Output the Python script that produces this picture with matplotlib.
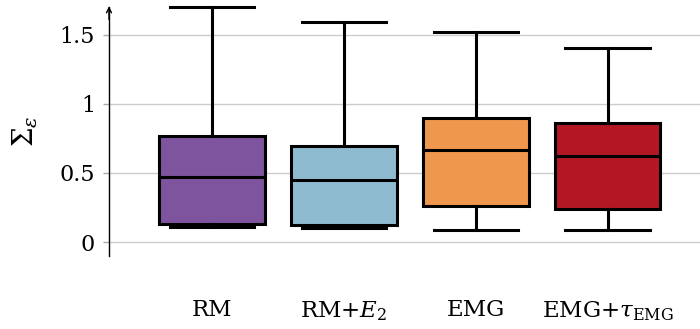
import matplotlib
matplotlib.use("Agg")
import matplotlib.pyplot as plt

# Box statistics per method
methods = ["RM", r"RM+$E_2$", "EMG", r"EMG+$\tau_{\mathrm{EMG}}$"]
whislo = [0.108, 0.103, 0.089, 0.087]
q1 = [0.132, 0.123, 0.262, 0.238]
med = [0.470, 0.448, 0.665, 0.624]
q3 = [0.768, 0.698, 0.898, 0.864]
whishi = [1.702, 1.594, 1.517, 1.404]
colors = ["#7E549E", "#8FBBD0", "#EF974D", "#B31724"]
yticks = [0, 0.5, 1, 1.5]
ytick_labels = ["0", "0.5", "1", "1.5"]

plt.rcParams["font.family"] = ["DejaVu Serif"]
plt.rcParams["mathtext.fontset"] = "dejavuserif"

fig = plt.figure(figsize=(7.0, 3.29), dpi=100)
ax = fig.add_axes([0.1557, 0.2219, 0.8443, 0.7568])

stats = []
for i in range(len(methods)):
    stats.append(dict(med=med[i], q1=q1[i], q3=q3[i],
                      whislo=whislo[i], whishi=whishi[i], fliers=[]))

lw = 2.2
bp = ax.bxp(stats, positions=range(1, len(methods) + 1), widths=0.8,
            patch_artist=True, showfliers=False,
            boxprops=dict(linewidth=lw, edgecolor="black"),
            medianprops=dict(linewidth=lw, color="black"),
            whiskerprops=dict(linewidth=lw, color="black"),
            capprops=dict(linewidth=lw, color="black"),
            capwidths=0.64)
for patch, c in zip(bp["boxes"], colors):
    patch.set_facecolor(c)
for art in bp["whiskers"] + bp["caps"] + bp["medians"] + bp["boxes"]:
    art.set_clip_on(False)
    art.set_zorder(3)

ax.set_xlim(0.22, 4.70)
ax.set_ylim(-0.1, 1.7)
ax.set_yticks(yticks)
ax.set_yticklabels(ytick_labels)
ax.set_xticks(range(1, len(methods) + 1))
ax.set_xticklabels(methods)

ax.yaxis.grid(True, color="#cccccc", linewidth=1.0)
ax.set_axisbelow(True)
ax.tick_params(axis="y", length=4, width=1.0, color="#aaaaaa", pad=6, labelsize=16)
ax.tick_params(axis="x", length=0, pad=31, labelsize=16.5)

for s in ["top", "right", "bottom"]:
    ax.spines[s].set_visible(False)
ax.spines["left"].set_linewidth(1.0)
ax.annotate("", xy=(0, 1.003), xycoords="axes fraction",
            xytext=(0, 0.95), textcoords="axes fraction",
            arrowprops=dict(arrowstyle="->", color="black", lw=1.0,
                            shrinkA=0, shrinkB=0, mutation_scale=9))

ax.set_ylabel(r"$\Sigma_\varepsilon$", fontsize=20, labelpad=14)

fig.savefig("out.png", dpi=100)
